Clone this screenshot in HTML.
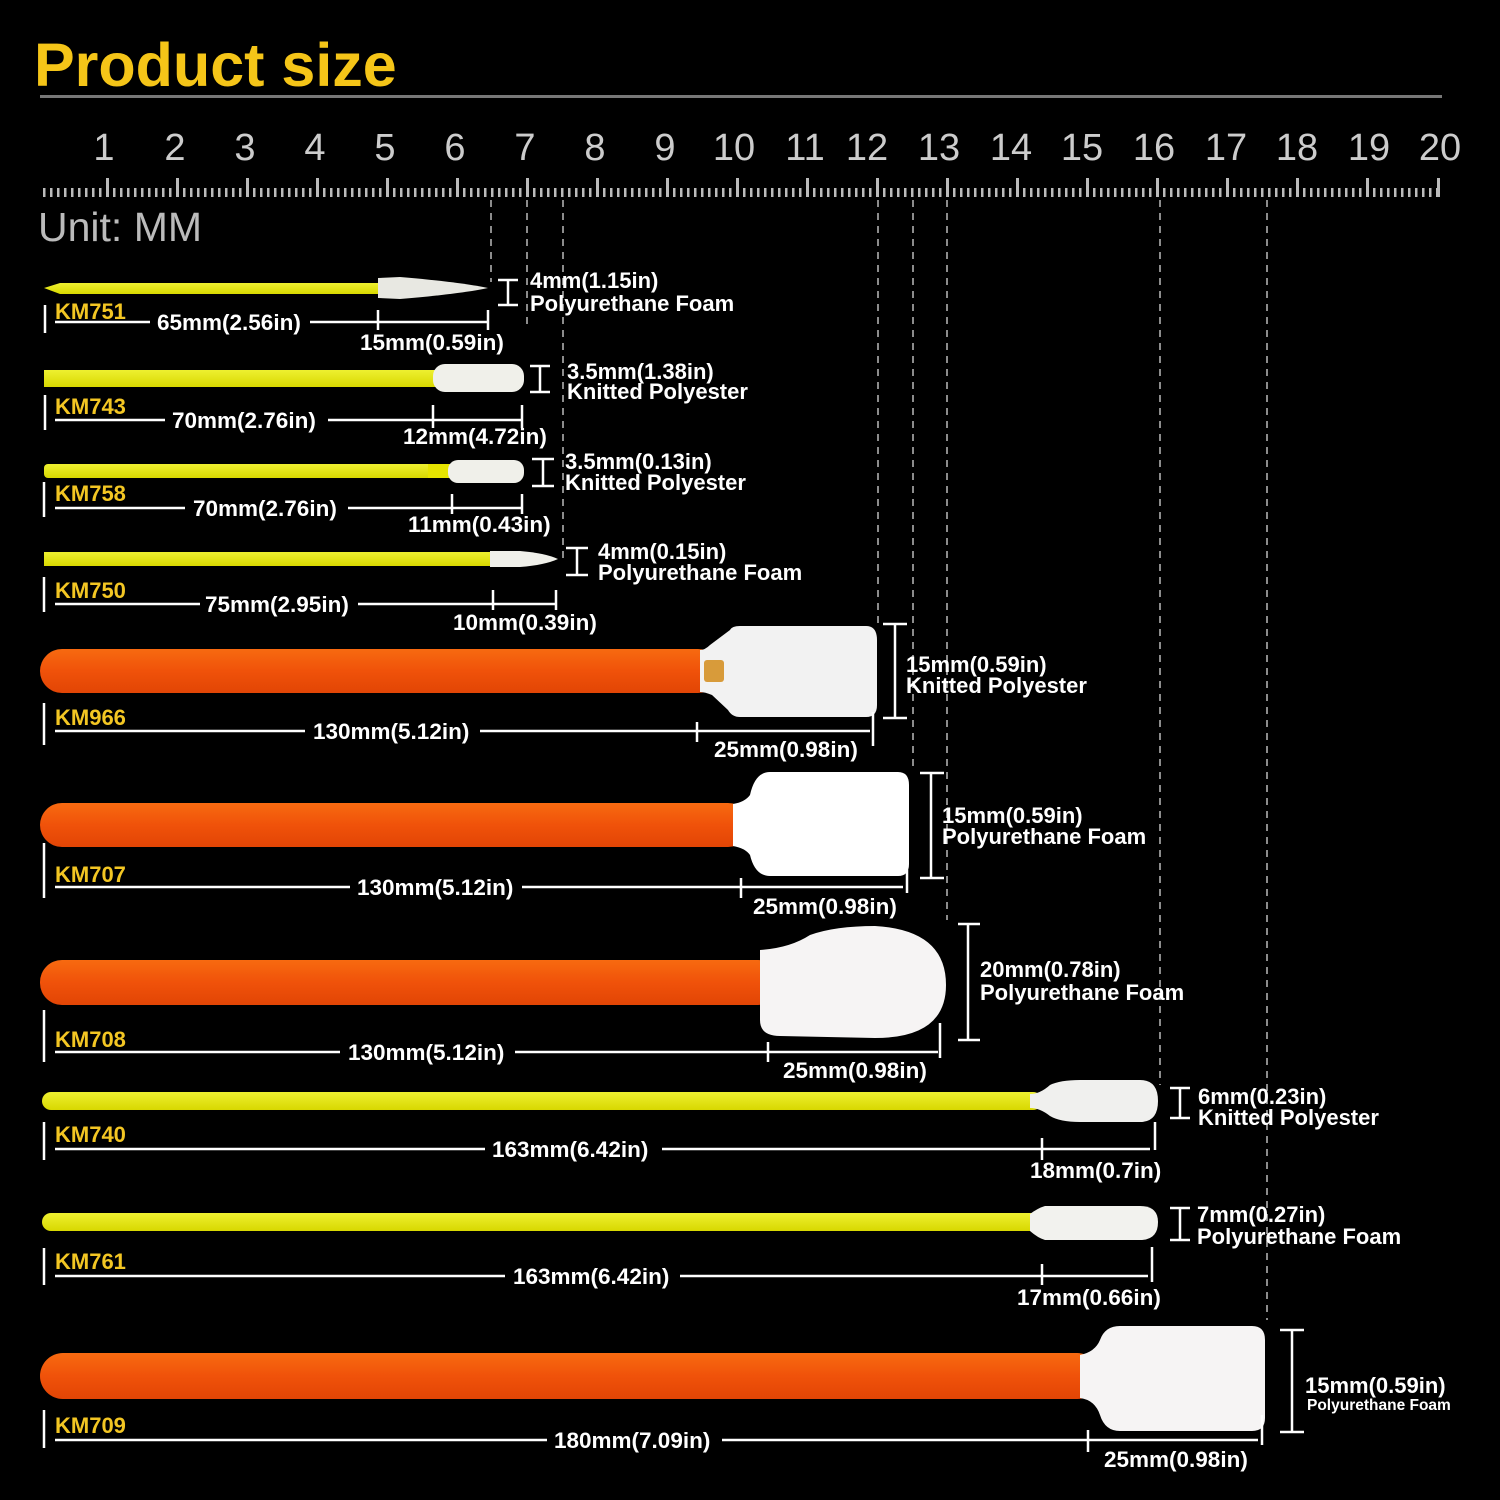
<!DOCTYPE html>
<html><head><meta charset="utf-8"><style>
html,body{margin:0;padding:0;background:#000;}
svg{display:block}
text{font-family:"Liberation Sans",sans-serif;}
.d{fill:#fff;font-size:22.5px;font-weight:bold;}
.m{fill:#fff;font-size:22px;font-weight:bold;}
.k{fill:#f3c623;font-size:22px;font-weight:bold;}
.w{stroke:#fff;stroke-width:2.5;fill:none}
.ds{stroke:#bbb;stroke-width:1.5;stroke-dasharray:7 6;fill:none}
</style></head><body>
<svg width="1500" height="1500" viewBox="0 0 1500 1500" xmlns="http://www.w3.org/2000/svg">
<defs>
<pattern id="tk" x="0" y="0" width="7" height="20" patternUnits="userSpaceOnUse"><rect x="1" y="0" width="2.5" height="20" fill="#bbb"/></pattern>
<linearGradient id="og" x1="0" y1="0" x2="0" y2="1"><stop offset="0" stop-color="#f76a10"/><stop offset="0.5" stop-color="#f0520a"/><stop offset="1" stop-color="#e24505"/></linearGradient>
<linearGradient id="yg" x1="0" y1="0" x2="0" y2="1"><stop offset="0" stop-color="#eef030"/><stop offset="1" stop-color="#d8d800"/></linearGradient>
</defs>
<rect width="1500" height="1500" fill="#000"/>
<text x="34" y="86" style="font-size:61px;font-weight:bold;fill:#f5c518">Product size</text>
<rect x="40" y="95" width="1402" height="3" fill="#777"/>
<g style="font-size:38px;fill:#ccc" text-anchor="middle">
<text x="104" y="160">1</text><text x="175" y="160">2</text><text x="245" y="160">3</text><text x="315" y="160">4</text><text x="385" y="160">5</text><text x="455" y="160">6</text><text x="525" y="160">7</text><text x="595" y="160">8</text><text x="665" y="160">9</text><text x="734" y="160">10</text><text x="805" y="160">11</text><text x="867" y="160">12</text><text x="939" y="160">13</text><text x="1011" y="160">14</text><text x="1082" y="160">15</text><text x="1154" y="160">16</text><text x="1226" y="160">17</text><text x="1297" y="160">18</text><text x="1369" y="160">19</text><text x="1440" y="160">20</text>
</g>
<rect x="40" y="188" width="1402" height="9" fill="url(#tk)"/>
<g fill="#bbb">
<rect x="106" y="178" width="3" height="19"/><rect x="176" y="178" width="3" height="19"/><rect x="246" y="178" width="3" height="19"/><rect x="316" y="178" width="3" height="19"/><rect x="386" y="178" width="3" height="19"/><rect x="456" y="178" width="3" height="19"/><rect x="526" y="178" width="3" height="19"/><rect x="596" y="178" width="3" height="19"/><rect x="666" y="178" width="3" height="19"/><rect x="736" y="178" width="3" height="19"/><rect x="806" y="178" width="3" height="19"/><rect x="876" y="178" width="3" height="19"/><rect x="946" y="178" width="3" height="19"/><rect x="1016" y="178" width="3" height="19"/><rect x="1086" y="178" width="3" height="19"/><rect x="1156" y="178" width="3" height="19"/><rect x="1226" y="178" width="3" height="19"/><rect x="1296" y="178" width="3" height="19"/><rect x="1366" y="178" width="3" height="19"/><rect x="1437" y="178" width="3" height="19"/>
</g>
<text x="38" y="241" style="font-size:41px;fill:#bbb">Unit: MM</text>
<path class="ds" d="M491 200V282M527 200V330M563 200V560M878 200V625M913 200V770M947 200V920M1160 200V1085M1267 200V1320"/>

<!-- KM751 -->
<path d="M44 288 L60 283 H378 V294 H60 Z" fill="url(#yg)"/>
<path d="M378 278 L400 277 Q460 282 488 288 Q460 294 400 299 L378 298 Z" fill="#e8e8e2"/>
<path class="w" d="M45 305V333M55 322H150M310 322H488M378 310V330M488 310V330M498 280H518M508 280V305M498 305H518"/>
<text class="k" x="55" y="319">KM751</text>
<text class="d" x="157" y="330">65mm(2.56in)</text>
<text class="d" x="360" y="350">15mm(0.59in)</text>
<text class="m" x="530" y="288">4mm(1.15in)</text>
<text class="m" x="530" y="311">Polyurethane Foam</text>

<!-- KM743 -->
<rect x="44" y="370" width="392" height="17" fill="url(#yg)"/>
<rect x="433" y="364" width="91" height="28" rx="12" fill="#f0f0ea"/>
<path class="w" d="M45 395V430M55 420H165M328 420H522M433 405V428M522 405V428M530 366H550M540 366V392M530 392H550"/>
<text class="k" x="55" y="414">KM743</text>
<text class="d" x="172" y="428">70mm(2.76in)</text>
<text class="d" x="403" y="444">12mm(4.72in)</text>
<text class="m" x="567" y="379">3.5mm(1.38in)</text>
<text class="m" x="567" y="399">Knitted Polyester</text>

<!-- KM758 -->
<rect x="44" y="464" width="404" height="14" rx="4" fill="url(#yg)"/>
<rect x="428" y="464" width="22" height="14" fill="#e6e400"/>
<rect x="448" y="460" width="76" height="23" rx="10" fill="#f0f0ea"/>
<path class="w" d="M44 482V517M55 508H185M348 508H522M452 494V514M522 494V514M532 459H554M543 459V486M532 486H554"/>
<text class="k" x="55" y="501">KM758</text>
<text class="d" x="193" y="516">70mm(2.76in)</text>
<text class="d" x="408" y="532">11mm(0.43in)</text>
<text class="m" x="565" y="469">3.5mm(0.13in)</text>
<text class="m" x="565" y="490">Knitted Polyester</text>

<!-- KM750 -->
<rect x="44" y="552" width="450" height="14" fill="url(#yg)"/>
<path d="M490 551 H520 Q545 553 558 559 Q545 565 520 567 H490 Z" fill="#f0f0ea"/>
<path class="w" d="M44 577V612M55 604H200M358 604H556M493 590V610M556 590V610M566 548H588M577 548V575M566 575H588"/>
<text class="k" x="55" y="598">KM750</text>
<text class="d" x="205" y="612">75mm(2.95in)</text>
<text class="d" x="453" y="630">10mm(0.39in)</text>
<text class="m" x="598" y="559">4mm(0.15in)</text>
<text class="m" x="598" y="580">Polyurethane Foam</text>

<!-- KM966 -->
<rect x="40" y="649" width="680" height="44" rx="22" fill="url(#og)"/>
<path d="M700 650 Q705 650 710 645 L730 630 Q732 626 740 626 H866 Q877 626 877 640 V705 Q877 717 866 717 H740 Q732 717 728 710 L712 695 Q705 692 700 692 Z" fill="#f2f2f2"/>
<rect x="704" y="660" width="20" height="22" rx="3" fill="#d89b3a"/>
<path class="w" d="M44 703V745M55 731H305M480 731H870M697 722V742M873 712V746M883 624H907M895 624V718M883 718H907"/>
<text class="k" x="55" y="725">KM966</text>
<text class="d" x="313" y="739">130mm(5.12in)</text>
<text class="d" x="714" y="757">25mm(0.98in)</text>
<text class="m" x="906" y="672">15mm(0.59in)</text>
<text class="m" x="906" y="693">Knitted Polyester</text>

<!-- KM707 -->
<rect x="40" y="803" width="710" height="44" rx="22" fill="url(#og)"/>
<path d="M733 804 Q745 802 750 795 Q755 772 770 772 H898 Q909 772 909 785 V864 Q909 876 898 876 H770 Q755 876 750 855 Q745 848 733 846 Z" fill="#ffffff"/>
<path class="w" d="M44 843V898M55 887H350M522 887H903M741 878V898M907 870V893M920 773H944M931 773V878M920 878H944"/>
<text class="k" x="55" y="882">KM707</text>
<text class="d" x="357" y="895">130mm(5.12in)</text>
<text class="d" x="753" y="914">25mm(0.98in)</text>
<text class="m" x="942" y="823">15mm(0.59in)</text>
<text class="m" x="942" y="844">Polyurethane Foam</text>

<!-- KM708 -->
<rect x="40" y="960" width="740" height="45" rx="22" fill="url(#og)"/>
<path d="M760 950 Q790 948 810 935 Q835 926 875 926 Q946 930 946 985 Q946 1038 875 1038 L780 1036 Q760 1036 760 1020 Z" fill="#f6f4f4"/>
<path class="w" d="M44 1010V1062M55 1052H340M515 1052H938M768 1042V1062M940 1023V1058M958 924H980M968 924V1040M958 1040H980"/>
<text class="k" x="55" y="1047">KM708</text>
<text class="d" x="348" y="1060">130mm(5.12in)</text>
<text class="d" x="783" y="1078">25mm(0.98in)</text>
<text class="m" x="980" y="977">20mm(0.78in)</text>
<text class="m" x="980" y="1000">Polyurethane Foam</text>

<!-- KM740 -->
<rect x="42" y="1092" width="1000" height="18" rx="9" fill="url(#yg)"/>
<path d="M1030 1094 Q1040 1094 1050 1085 Q1060 1080 1080 1080 H1140 Q1158 1080 1158 1101 Q1158 1122 1140 1122 H1080 Q1060 1122 1050 1116 Q1040 1108 1030 1108 Z" fill="#f0f0ee"/>
<path class="w" d="M44 1122V1160M55 1149H485M662 1149H1150M1042 1138V1160M1155 1122V1150M1170 1088H1190M1180 1088V1118M1170 1118H1190"/>
<text class="k" x="55" y="1142">KM740</text>
<text class="d" x="492" y="1157">163mm(6.42in)</text>
<text class="d" x="1030" y="1178">18mm(0.7in)</text>
<text class="m" x="1198" y="1104">6mm(0.23in)</text>
<text class="m" x="1198" y="1125">Knitted Polyester</text>

<!-- KM761 -->
<rect x="42" y="1213" width="1000" height="18" rx="9" fill="url(#yg)"/>
<path d="M1030 1214 Q1038 1208 1045 1206 H1140 Q1158 1206 1158 1222 Q1158 1240 1140 1240 H1045 Q1038 1238 1030 1231 Z" fill="#f2f2ee"/>
<path class="w" d="M44 1248V1285M55 1276H505M680 1276H1148M1042 1264V1285M1152 1247V1282M1170 1208H1190M1180 1208V1240M1170 1240H1190"/>
<text class="k" x="55" y="1269">KM761</text>
<text class="d" x="513" y="1284">163mm(6.42in)</text>
<text class="d" x="1017" y="1305">17mm(0.66in)</text>
<text class="m" x="1197" y="1222">7mm(0.27in)</text>
<text class="m" x="1197" y="1244">Polyurethane Foam</text>

<!-- KM709 -->
<rect x="40" y="1353" width="1060" height="46" rx="23" fill="url(#og)"/>
<path d="M1080 1355 Q1095 1352 1100 1340 Q1105 1326 1120 1326 H1252 Q1265 1326 1265 1340 V1418 Q1265 1431 1252 1431 H1120 Q1105 1431 1100 1415 Q1095 1400 1080 1398 Z" fill="#f6f4f4"/>
<path class="w" d="M44 1410V1448M55 1440H547M722 1440H1258M1088 1430V1452M1262 1415V1445M1280 1330H1304M1292 1330V1432M1280 1432H1304"/>
<text class="k" x="55" y="1433">KM709</text>
<text class="d" x="554" y="1448">180mm(7.09in)</text>
<text class="d" x="1104" y="1467">25mm(0.98in)</text>
<text class="m" x="1305" y="1393">15mm(0.59in)</text>
<text x="1307" y="1410" style="fill:#fff;font-size:15.5px;font-weight:bold">Polyurethane Foam</text>
</svg>
</body></html>
